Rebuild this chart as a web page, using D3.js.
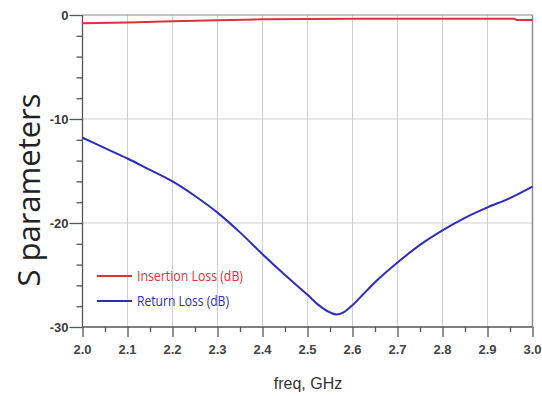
<!DOCTYPE html>
<html>
<head>
<meta charset="UTF-8">
<script src="https://cdn.jsdelivr.net/npm/d3@7"></script>
<style>
  body { margin: 0; background: #fff; }
  text { font-family: "Liberation Sans", Arial, sans-serif; }
</style>
</head>
<body>
<script>
// frequency points (GHz)
var freqRL = [2.0, 2.05, 2.1, 2.15, 2.2, 2.25, 2.3, 2.35, 2.4, 2.45, 2.5, 2.525, 2.55, 2.565, 2.58, 2.6, 2.625, 2.65, 2.7, 2.75, 2.8, 2.85, 2.9, 2.95, 3.0];
var returnLoss = [-11.8, -12.8, -13.8, -14.9, -16.0, -17.4, -19.0, -20.9, -23.0, -25.0, -26.9, -27.9, -28.6, -28.8, -28.6, -27.9, -26.8, -25.7, -23.8, -22.1, -20.7, -19.5, -18.5, -17.6, -16.5];
var freqIL = [2.0, 2.1, 2.2, 2.3, 2.4, 2.5, 2.6, 2.7, 2.8, 2.9, 2.96, 2.965, 3.0];
var insertionLoss = [-0.8, -0.72, -0.6, -0.5, -0.42, -0.38, -0.36, -0.35, -0.35, -0.36, -0.37, -0.48, -0.48];
var xTicks = [2.0, 2.1, 2.2, 2.3, 2.4, 2.5, 2.6, 2.7, 2.8, 2.9, 3.0];
var yTicks = [0, -10, -20, -30];

var W = 542, H = 396;
var pL = 82.5, pR = 532.5, pT = 15, pB = 327;

var svg = d3.select("body").append("svg").attr("width", W).attr("height", H);

var x = d3.scaleLinear().domain([2.0, 3.0]).range([pL, pR]);
var y = d3.scaleLinear().domain([-30, 0]).range([pB, pT]);

// grid
svg.append("g").selectAll("line").data(xTicks.slice(1, -1)).enter().append("line")
  .attr("x1", d => x(d)).attr("x2", d => x(d)).attr("y1", pT).attr("y2", pB)
  .attr("stroke", "#cfcfcf").attr("stroke-width", 1);
svg.append("g").selectAll("line").data([-10, -20]).enter().append("line")
  .attr("x1", pL).attr("x2", pR).attr("y1", d => y(d)).attr("y2", d => y(d))
  .attr("stroke", "#cfcfcf").attr("stroke-width", 1);

// frame top and right
svg.append("line").attr("x1", pL).attr("x2", pR).attr("y1", pT).attr("y2", pT)
  .attr("stroke", "#8a8a8a").attr("stroke-width", 1.2);
svg.append("line").attr("x1", pR).attr("x2", pR).attr("y1", pT).attr("y2", pB)
  .attr("stroke", "#8a8a8a").attr("stroke-width", 1.5);

// y axis
var yAxis = svg.append("g").attr("transform", "translate(" + pL + ",0)");
yAxis.call(d3.axisLeft(y).tickValues(d3.range(-30, 1, 2)).tickSize(6).tickFormat(""));
yAxis.call(g => g.selectAll(".tick").filter(d => d % 10 === 0).select("line").attr("x2", -13));
yAxis.selectAll("line, path").attr("stroke", "#555").attr("stroke-width", 1.3);
yAxis.select(".domain").attr("d", "M0," + pT + "V" + pB);
svg.append("g").selectAll("text").data(yTicks).enter().append("text")
  .attr("x", pL - 14).attr("y", d => y(d) + 5)
  .attr("text-anchor", "end").attr("font-size", 13).attr("font-weight", "bold")
  .attr("fill", "#3a3a3a").text(d => d);

// x axis
var xAxis = svg.append("g").attr("transform", "translate(0," + pB + ")");
xAxis.call(d3.axisBottom(x).tickValues(d3.range(0, 21).map(i => 2 + i * 0.05)).tickSize(5).tickFormat(""));
xAxis.call(g => g.selectAll(".tick").filter((d, i) => i % 2 === 0).select("line").attr("y2", 10));
xAxis.selectAll("line, path").attr("stroke", "#555").attr("stroke-width", 1.3);
xAxis.select(".domain").attr("d", "M" + pL + ",0H" + pR);
svg.append("g").selectAll("text").data(xTicks).enter().append("text")
  .attr("x", d => x(d)).attr("y", pB + 27)
  .attr("text-anchor", "middle").attr("font-size", 13).attr("font-weight", "bold")
  .attr("fill", "#444").text(d => d.toFixed(1));

// axis titles
svg.append("text").attr("x", 308).attr("y", 389).attr("text-anchor", "middle")
  .attr("font-size", 16).attr("fill", "#333").text("freq, GHz");
svg.append("text").attr("transform", "translate(40,190) rotate(-90)")
  .attr("text-anchor", "middle").attr("font-size", 31)
  .style("font-family", "'Open Sans', sans-serif").attr("fill", "#222")
  .text("S parameters");

// lines
svg.append("path").datum(freqIL.map((f, i) => [f, insertionLoss[i]]))
  .attr("d", d3.line().x(d => x(d[0])).y(d => y(d[1])))
  .attr("fill", "none").attr("stroke", "#d8343c").attr("stroke-width", 2);
svg.append("path").datum(freqRL.map((f, i) => [f, returnLoss[i]]))
  .attr("d", d3.line().x(d => x(d[0])).y(d => y(d[1])).curve(d3.curveMonotoneX))
  .attr("fill", "none").attr("stroke", "#2c2cc0").attr("stroke-width", 2);

// legend
var legend = [["Insertion Loss (dB)", "#d8343c", 106], ["Return Loss (dB)", "#2c2cc0", 92]];
var lg = svg.append("g").selectAll("g").data(legend).enter().append("g")
  .attr("transform", (d, i) => "translate(97," + (276 + i * 25) + ")");
lg.append("line").attr("x1", 0).attr("x2", 35).attr("stroke", d => d[1]).attr("stroke-width", 2);
lg.append("text").attr("x", 40).attr("y", 5).attr("font-size", 14)
  .attr("textLength", d => d[2]).attr("lengthAdjust", "spacingAndGlyphs")
  .style("font-family", "'Open Sans', sans-serif")
  .attr("fill", d => d[1]).text(d => d[0]);
</script>
</body>
</html>
